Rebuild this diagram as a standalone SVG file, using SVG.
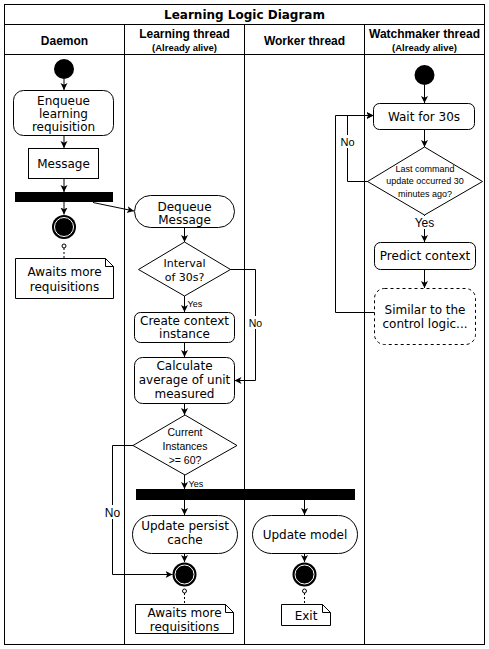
<svg xmlns="http://www.w3.org/2000/svg" width="489" height="649" viewBox="0 0 489 649">
<style>
.frame{fill:none;stroke:#000;stroke-width:1}
.node{fill:#fff;stroke:#000;stroke-width:1}
.dash{fill:#fff;stroke:#000;stroke-width:1;stroke-dasharray:3 3}
.edge{fill:none;stroke:#000;stroke-width:1}
.arr{marker-end:url(#arrow)}
.note{fill:none;stroke:#000;stroke-width:1;stroke-dasharray:2 2}
.t{font-family:"DejaVu Sans",Verdana,sans-serif;font-size:12px;fill:#000;text-anchor:middle}
.h{font-family:"Liberation Sans",Arial,sans-serif;font-weight:bold;font-size:12px;fill:#000;text-anchor:middle}
.hs{font-family:"Liberation Sans",Arial,sans-serif;font-weight:bold;font-size:9.5px;fill:#000;text-anchor:middle}
.d{font-family:"Liberation Sans",Arial,sans-serif;font-size:9px;fill:#000;text-anchor:middle}
.l{font-family:"Liberation Sans",Arial,sans-serif;font-size:11px;fill:#000;text-anchor:middle}
.lbg{fill:#fff;stroke:none}
</style>
<defs>
<marker id="arrow" markerWidth="8" markerHeight="8" refX="7" refY="4" orient="auto" markerUnits="userSpaceOnUse">
<path d="M0,0.5 L7,4 L0,7.5 L1.8,4 Z" fill="#000"/>
</marker>
</defs>
<rect width="489" height="649" fill="#fff"/>
<g id="pool">
<rect class="frame" x="4.5" y="4.5" width="480" height="640"/>
<line class="frame" x1="4.5" y1="24.5" x2="484.5" y2="24.5"/>
<line class="frame" x1="4.5" y1="54.5" x2="484.5" y2="54.5"/>
<line class="frame" x1="124.5" y1="24.5" x2="124.5" y2="644.5"/>
<line class="frame" x1="244.5" y1="24.5" x2="244.5" y2="644.5"/>
<line class="frame" x1="364.5" y1="24.5" x2="364.5" y2="644.5"/>
<text x="244.5" y="19" style="font-family:'DejaVu Sans',Verdana,sans-serif;font-weight:bold;font-size:12px;text-anchor:middle">Learning Logic Diagram</text>
<text class="h" x="64.5" y="45">Daemon</text>
<text class="h" x="184.5" y="37.5">Learning thread</text>
<text class="hs" x="184.5" y="51">(Already alive)</text>
<text class="h" x="304.5" y="45">Worker thread</text>
<text class="h" x="424.5" y="37.5">Watchmaker thread</text>
<text class="hs" x="424.5" y="51">(Already alive)</text>
</g>
<g id="edges">
<line class="edge arr" x1="64" y1="79" x2="64" y2="90"/>
<line class="edge arr" x1="64" y1="135.5" x2="64" y2="148"/>
<line class="edge arr" x1="64" y1="178.5" x2="64" y2="192"/>
<line class="edge arr" x1="64" y1="202" x2="64" y2="214.5"/>
<line class="note" x1="64" y1="248" x2="64" y2="258"/>
<line class="edge arr" x1="93" y1="202.5" x2="134" y2="211"/>
<line class="edge arr" x1="184.5" y1="227.5" x2="184.5" y2="242"/>
<line class="edge arr" x1="184.5" y1="296" x2="184.5" y2="312"/>
<polyline class="edge arr" points="230,269.5 255.5,269.5 255.5,380.5 234.5,380.5"/>
<line class="edge arr" x1="184.5" y1="342.5" x2="184.5" y2="357"/>
<line class="edge arr" x1="184.5" y1="403.5" x2="184.5" y2="415"/>
<line class="edge arr" x1="184.5" y1="475" x2="184.5" y2="489"/>
<polyline class="edge arr" points="133,445.5 112.5,445.5 112.5,574.5 172.5,574.5"/>
<line class="edge arr" x1="184.5" y1="500" x2="184.5" y2="515"/>
<line class="edge arr" x1="304.5" y1="500" x2="304.5" y2="515"/>
<line class="edge arr" x1="184.5" y1="553.5" x2="184.5" y2="562"/>
<line class="edge arr" x1="304.5" y1="553.5" x2="304.5" y2="562"/>
<line class="note" x1="184.5" y1="593" x2="184.5" y2="604"/>
<line class="note" x1="304.5" y1="593" x2="304.5" y2="604"/>
<line class="edge arr" x1="424.5" y1="85" x2="424.5" y2="103"/>
<line class="edge arr" x1="424.5" y1="129.5" x2="424.5" y2="147"/>
<polyline class="edge arr" points="368,181.5 347.5,181.5 347.5,115.5 373.5,115.5"/>
<polyline class="edge arr" points="374.5,312.5 335.5,312.5 335.5,115.5 373.5,115.5"/>
<line class="edge arr" x1="424.5" y1="215" x2="424.5" y2="242"/>
<line class="edge arr" x1="424.5" y1="269.5" x2="424.5" y2="288"/>
<rect class="lbg" x="248" y="316" width="15" height="13"/>
<text class="l" x="255.5" y="327" style="font-size:10.5px">No</text>
<rect class="lbg" x="104" y="505" width="17" height="14"/>
<text class="l" x="112.5" y="516.5" style="font-size:12px">No</text>
<rect class="lbg" x="340" y="135" width="15" height="13"/>
<text class="l" x="347.5" y="146">No</text>
<rect class="lbg" x="415" y="216" width="20" height="13"/>
<text class="l" x="424.5" y="226.5" style="font-size:12px">Yes</text>
<text class="d" x="187.5" y="306.5" style="text-anchor:start">Yes</text>
<text class="d" x="188.5" y="487" style="text-anchor:start">Yes</text>
</g>
<g id="daemon-start"><circle cx="64" cy="69" r="10" fill="#000"/></g>
<g id="enqueue">
<rect class="node" x="13.5" y="90.5" width="100" height="45" rx="10"/>
<text class="t" x="63.5" y="105">Enqueue</text>
<text class="t" x="63.5" y="118">learning</text>
<text class="t" x="63.5" y="131">requisition</text>
</g>
<g id="message">
<rect class="node" x="28.5" y="148.5" width="70" height="30"/>
<text class="t" x="63.5" y="167.5">Message</text>
</g>
<g id="fork1"><rect x="15" y="192" width="98" height="10" fill="#000"/></g>
<g id="daemon-end">
<circle cx="64" cy="227" r="12" fill="#000"/>
<circle cx="64" cy="227" r="9.5" fill="#000" stroke="#fff" stroke-width="1"/>
<circle cx="64" cy="246" r="2" fill="#fff" stroke="#000"/>
</g>
<g id="daemon-note">
<path class="node" d="M15.5,258.5 H105.5 L113.5,266.5 V298.5 H15.5 Z"/>
<path class="edge" d="M105.5,258.5 V266.5 H113.5"/>
<text class="t" x="64.5" y="276">Awaits more</text>
<text class="t" x="64.5" y="291">requisitions</text>
</g>
<g id="dequeue">
<rect class="node" x="134.5" y="195.5" width="100" height="32" rx="16"/>
<text class="t" x="184.5" y="210.5">Dequeue</text>
<text class="t" x="184.5" y="224">Message</text>
</g>
<g id="interval">
<polygon class="node" points="184.5,242 230.5,269.5 184.5,296 138.5,269.5"/>
<text class="t" x="184.5" y="266.5" style="font-size:11px">Interval</text>
<text class="t" x="184.5" y="281" style="font-size:11px">of 30s?</text>
</g>
<g id="create">
<rect class="node" x="134.5" y="312.5" width="100" height="30" rx="6"/>
<text class="t" x="184.5" y="324.5">Create context</text>
<text class="t" x="184.5" y="338">instance</text>
</g>
<g id="calculate">
<rect class="node" x="134.5" y="357.5" width="100" height="46" rx="8"/>
<text class="t" x="184.5" y="370">Calculate</text>
<text class="t" x="184.5" y="384">average of unit</text>
<text class="t" x="184.5" y="398">measured</text>
</g>
<g id="instances">
<polygon class="node" points="185,415 237,445.5 185,475 133,445.5"/>
<text class="d" x="185" y="436" style="font-size:10.5px">Current</text>
<text class="d" x="185" y="450" style="font-size:10.5px">Instances</text>
<text class="d" x="185" y="464" style="font-size:10.5px">&gt;= 60?</text>
</g>
<g id="fork2"><rect x="136" y="489" width="219" height="11" fill="#000"/></g>
<g id="persist">
<rect class="node" x="132.5" y="515.5" width="105" height="38" rx="19"/>
<text class="t" x="185" y="530">Update persist</text>
<text class="t" x="185" y="543.5">cache</text>
</g>
<g id="model">
<rect class="node" x="252.5" y="515.5" width="105" height="38" rx="19"/>
<text class="t" x="305" y="538.5">Update model</text>
</g>
<g id="learning-end">
<circle cx="184.5" cy="574.5" r="12" fill="#000"/>
<circle cx="184.5" cy="574.5" r="9.5" fill="#000" stroke="#fff" stroke-width="1"/>
<circle cx="184.5" cy="591" r="2" fill="#fff" stroke="#000"/>
</g>
<g id="learning-note">
<path class="node" d="M135.5,604.5 H225.5 L233.5,612.5 V633.5 H135.5 Z"/>
<path class="edge" d="M225.5,604.5 V612.5 H233.5"/>
<text class="t" x="184.5" y="617">Awaits more</text>
<text class="t" x="184.5" y="630.5">requisitions</text>
</g>
<g id="worker-end">
<circle cx="304.5" cy="574.5" r="12" fill="#000"/>
<circle cx="304.5" cy="574.5" r="9.5" fill="#000" stroke="#fff" stroke-width="1"/>
<circle cx="304.5" cy="591" r="2" fill="#fff" stroke="#000"/>
</g>
<g id="exit-note">
<path class="node" d="M281.5,604.5 H322.5 L330.5,612.5 V625.5 H281.5 Z"/>
<path class="edge" d="M322.5,604.5 V612.5 H330.5"/>
<text class="t" x="306" y="619.5">Exit</text>
</g>
<g id="watch-start"><circle cx="424.5" cy="75" r="10" fill="#000"/></g>
<g id="wait">
<rect class="node" x="373.5" y="103.5" width="101" height="26" rx="6"/>
<text class="t" x="424" y="120.5">Wait for 30s</text>
</g>
<g id="lastcmd">
<polygon class="node" points="424.5,147 482.5,181.5 424.5,215 367.5,181.5"/>
<text class="d" x="425" y="171.5">Last command</text>
<text class="d" x="425" y="184">update occurred 30</text>
<text class="d" x="425" y="196.5">minutes ago?</text>
</g>
<g id="predict">
<rect class="node" x="374.5" y="242.5" width="101" height="27" rx="6"/>
<text class="t" x="425" y="260">Predict context</text>
</g>
<g id="similar">
<rect class="dash" x="374.5" y="288.5" width="101" height="56" rx="10"/>
<text class="t" x="425" y="313.5">Similar to the</text>
<text class="t" x="425" y="328">control logic...</text>
</g>
</svg>
